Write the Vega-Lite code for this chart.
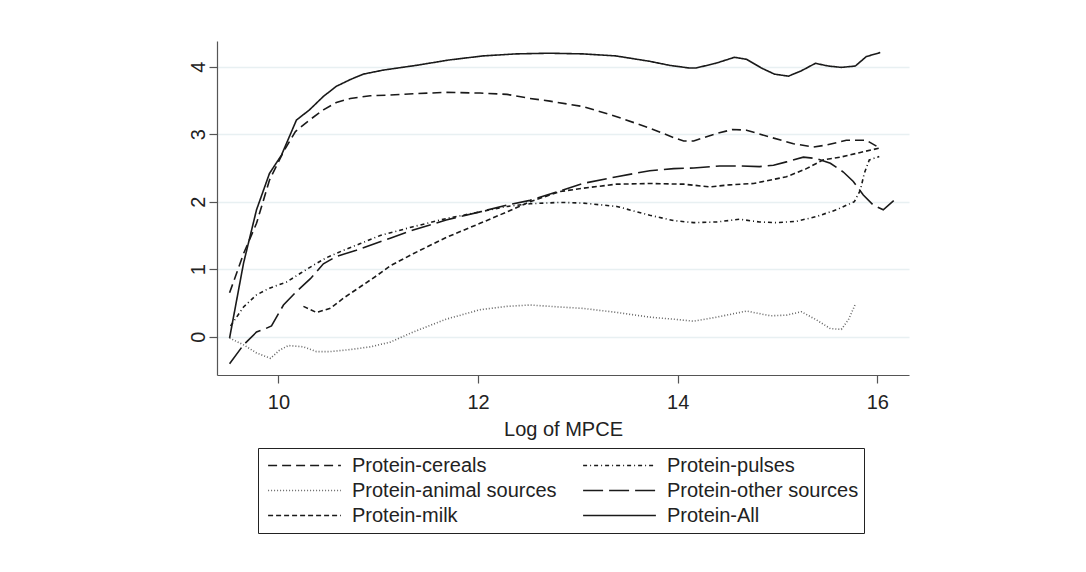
{
  "$schema": "https://vega.github.io/schema/vega-lite/v6.json",
  "width": 692,
  "height": 334,
  "autosize": {"type": "none"},
  "padding": {"left": 217, "top": 41, "right": 177, "bottom": 197},
  "background": "white",
  "config": {
    "font": "Liberation Sans",
    "view": {"stroke": null, "fill": "white"}
  },
  "data": {
    "values": [
      {"series": "Protein-All", "x": 9.51, "y": -0.02},
      {"series": "Protein-All", "x": 9.65, "y": 1.09},
      {"series": "Protein-All", "x": 9.78, "y": 1.88},
      {"series": "Protein-All", "x": 9.91, "y": 2.42},
      {"series": "Protein-All", "x": 10.03, "y": 2.69},
      {"series": "Protein-All", "x": 10.18, "y": 3.21},
      {"series": "Protein-All", "x": 10.31, "y": 3.36},
      {"series": "Protein-All", "x": 10.45, "y": 3.56},
      {"series": "Protein-All", "x": 10.58, "y": 3.71},
      {"series": "Protein-All", "x": 10.72, "y": 3.81},
      {"series": "Protein-All", "x": 10.85, "y": 3.89},
      {"series": "Protein-All", "x": 11.05, "y": 3.95},
      {"series": "Protein-All", "x": 11.38, "y": 4.02},
      {"series": "Protein-All", "x": 11.71, "y": 4.10},
      {"series": "Protein-All", "x": 12.05, "y": 4.16},
      {"series": "Protein-All", "x": 12.38, "y": 4.19},
      {"series": "Protein-All", "x": 12.71, "y": 4.20},
      {"series": "Protein-All", "x": 13.05, "y": 4.19},
      {"series": "Protein-All", "x": 13.38, "y": 4.16},
      {"series": "Protein-All", "x": 13.72, "y": 4.08},
      {"series": "Protein-All", "x": 13.92, "y": 4.02},
      {"series": "Protein-All", "x": 14.12, "y": 3.98},
      {"series": "Protein-All", "x": 14.18, "y": 3.98},
      {"series": "Protein-All", "x": 14.38, "y": 4.05},
      {"series": "Protein-All", "x": 14.57, "y": 4.14},
      {"series": "Protein-All", "x": 14.69, "y": 4.11},
      {"series": "Protein-All", "x": 14.84, "y": 3.98},
      {"series": "Protein-All", "x": 14.97, "y": 3.89},
      {"series": "Protein-All", "x": 15.11, "y": 3.86},
      {"series": "Protein-All", "x": 15.24, "y": 3.94},
      {"series": "Protein-All", "x": 15.38, "y": 4.05},
      {"series": "Protein-All", "x": 15.51, "y": 4.01},
      {"series": "Protein-All", "x": 15.64, "y": 3.99},
      {"series": "Protein-All", "x": 15.78, "y": 4.01},
      {"series": "Protein-All", "x": 15.89, "y": 4.15},
      {"series": "Protein-All", "x": 16.03, "y": 4.21},

      {"series": "Protein-cereals", "x": 9.51, "y": 0.65},
      {"series": "Protein-cereals", "x": 9.65, "y": 1.23},
      {"series": "Protein-cereals", "x": 9.78, "y": 1.68},
      {"series": "Protein-cereals", "x": 9.91, "y": 2.32},
      {"series": "Protein-cereals", "x": 10.05, "y": 2.74},
      {"series": "Protein-cereals", "x": 10.17, "y": 3.04},
      {"series": "Protein-cereals", "x": 10.31, "y": 3.21},
      {"series": "Protein-cereals", "x": 10.45, "y": 3.36},
      {"series": "Protein-cereals", "x": 10.58, "y": 3.47},
      {"series": "Protein-cereals", "x": 10.72, "y": 3.53},
      {"series": "Protein-cereals", "x": 10.92, "y": 3.57},
      {"series": "Protein-cereals", "x": 11.12, "y": 3.58},
      {"series": "Protein-cereals", "x": 11.35, "y": 3.60},
      {"series": "Protein-cereals", "x": 11.68, "y": 3.62},
      {"series": "Protein-cereals", "x": 12.02, "y": 3.61},
      {"series": "Protein-cereals", "x": 12.29, "y": 3.59},
      {"series": "Protein-cereals", "x": 12.52, "y": 3.53},
      {"series": "Protein-cereals", "x": 12.72, "y": 3.49},
      {"series": "Protein-cereals", "x": 13.05, "y": 3.41},
      {"series": "Protein-cereals", "x": 13.39, "y": 3.26},
      {"series": "Protein-cereals", "x": 13.72, "y": 3.09},
      {"series": "Protein-cereals", "x": 13.96, "y": 2.95},
      {"series": "Protein-cereals", "x": 14.06, "y": 2.90},
      {"series": "Protein-cereals", "x": 14.16, "y": 2.90},
      {"series": "Protein-cereals", "x": 14.39, "y": 3.01},
      {"series": "Protein-cereals", "x": 14.55, "y": 3.07},
      {"series": "Protein-cereals", "x": 14.69, "y": 3.06},
      {"series": "Protein-cereals", "x": 14.92, "y": 2.96},
      {"series": "Protein-cereals", "x": 15.16, "y": 2.86},
      {"series": "Protein-cereals", "x": 15.36, "y": 2.81},
      {"series": "Protein-cereals", "x": 15.49, "y": 2.84},
      {"series": "Protein-cereals", "x": 15.69, "y": 2.91},
      {"series": "Protein-cereals", "x": 15.89, "y": 2.91},
      {"series": "Protein-cereals", "x": 16.03, "y": 2.79},

      {"series": "Protein-pulses", "x": 9.52, "y": 0.16},
      {"series": "Protein-pulses", "x": 9.65, "y": 0.44},
      {"series": "Protein-pulses", "x": 9.78, "y": 0.62},
      {"series": "Protein-pulses", "x": 9.91, "y": 0.72},
      {"series": "Protein-pulses", "x": 10.08, "y": 0.81},
      {"series": "Protein-pulses", "x": 10.22, "y": 0.94},
      {"series": "Protein-pulses", "x": 10.35, "y": 1.06},
      {"series": "Protein-pulses", "x": 10.48, "y": 1.17},
      {"series": "Protein-pulses", "x": 10.65, "y": 1.28},
      {"series": "Protein-pulses", "x": 10.82, "y": 1.38},
      {"series": "Protein-pulses", "x": 11.02, "y": 1.50},
      {"series": "Protein-pulses", "x": 11.35, "y": 1.63},
      {"series": "Protein-pulses", "x": 11.68, "y": 1.75},
      {"series": "Protein-pulses", "x": 12.02, "y": 1.85},
      {"series": "Protein-pulses", "x": 12.29, "y": 1.93},
      {"series": "Protein-pulses", "x": 12.52, "y": 1.97},
      {"series": "Protein-pulses", "x": 12.82, "y": 1.99},
      {"series": "Protein-pulses", "x": 13.05, "y": 1.98},
      {"series": "Protein-pulses", "x": 13.39, "y": 1.93},
      {"series": "Protein-pulses", "x": 13.72, "y": 1.80},
      {"series": "Protein-pulses", "x": 13.96, "y": 1.72},
      {"series": "Protein-pulses", "x": 14.16, "y": 1.69},
      {"series": "Protein-pulses", "x": 14.39, "y": 1.70},
      {"series": "Protein-pulses", "x": 14.62, "y": 1.74},
      {"series": "Protein-pulses", "x": 14.82, "y": 1.70},
      {"series": "Protein-pulses", "x": 14.99, "y": 1.69},
      {"series": "Protein-pulses", "x": 15.19, "y": 1.71},
      {"series": "Protein-pulses", "x": 15.39, "y": 1.78},
      {"series": "Protein-pulses", "x": 15.59, "y": 1.88},
      {"series": "Protein-pulses", "x": 15.77, "y": 2.00},
      {"series": "Protein-pulses", "x": 15.83, "y": 2.17},
      {"series": "Protein-pulses", "x": 15.87, "y": 2.42},
      {"series": "Protein-pulses", "x": 15.92, "y": 2.62},
      {"series": "Protein-pulses", "x": 16.02, "y": 2.67},

      {"series": "Protein-animal sources", "x": 9.51, "y": -0.02},
      {"series": "Protein-animal sources", "x": 9.65, "y": -0.12},
      {"series": "Protein-animal sources", "x": 9.78, "y": -0.24},
      {"series": "Protein-animal sources", "x": 9.92, "y": -0.32},
      {"series": "Protein-animal sources", "x": 10.01, "y": -0.20},
      {"series": "Protein-animal sources", "x": 10.1, "y": -0.13},
      {"series": "Protein-animal sources", "x": 10.25, "y": -0.15},
      {"series": "Protein-animal sources", "x": 10.38, "y": -0.22},
      {"series": "Protein-animal sources", "x": 10.52, "y": -0.22},
      {"series": "Protein-animal sources", "x": 10.72, "y": -0.19},
      {"series": "Protein-animal sources", "x": 10.92, "y": -0.15},
      {"series": "Protein-animal sources", "x": 11.12, "y": -0.08},
      {"series": "Protein-animal sources", "x": 11.35, "y": 0.07},
      {"series": "Protein-animal sources", "x": 11.68, "y": 0.26},
      {"series": "Protein-animal sources", "x": 12.02, "y": 0.40},
      {"series": "Protein-animal sources", "x": 12.29, "y": 0.45},
      {"series": "Protein-animal sources", "x": 12.52, "y": 0.47},
      {"series": "Protein-animal sources", "x": 12.82, "y": 0.44},
      {"series": "Protein-animal sources", "x": 13.05, "y": 0.42},
      {"series": "Protein-animal sources", "x": 13.39, "y": 0.36},
      {"series": "Protein-animal sources", "x": 13.72, "y": 0.29},
      {"series": "Protein-animal sources", "x": 13.96, "y": 0.26},
      {"series": "Protein-animal sources", "x": 14.16, "y": 0.23},
      {"series": "Protein-animal sources", "x": 14.39, "y": 0.29},
      {"series": "Protein-animal sources", "x": 14.69, "y": 0.38},
      {"series": "Protein-animal sources", "x": 14.93, "y": 0.31},
      {"series": "Protein-animal sources", "x": 15.09, "y": 0.32},
      {"series": "Protein-animal sources", "x": 15.24, "y": 0.37},
      {"series": "Protein-animal sources", "x": 15.39, "y": 0.25},
      {"series": "Protein-animal sources", "x": 15.53, "y": 0.12},
      {"series": "Protein-animal sources", "x": 15.64, "y": 0.11},
      {"series": "Protein-animal sources", "x": 15.71, "y": 0.25},
      {"series": "Protein-animal sources", "x": 15.78, "y": 0.48},

      {"series": "Protein-other sources", "x": 9.51, "y": -0.40},
      {"series": "Protein-other sources", "x": 9.65, "y": -0.12},
      {"series": "Protein-other sources", "x": 9.78, "y": 0.07},
      {"series": "Protein-other sources", "x": 9.87, "y": 0.12},
      {"series": "Protein-other sources", "x": 9.93, "y": 0.16},
      {"series": "Protein-other sources", "x": 10.05, "y": 0.47},
      {"series": "Protein-other sources", "x": 10.18, "y": 0.67},
      {"series": "Protein-other sources", "x": 10.32, "y": 0.86},
      {"series": "Protein-other sources", "x": 10.45, "y": 1.08},
      {"series": "Protein-other sources", "x": 10.58, "y": 1.19},
      {"series": "Protein-other sources", "x": 10.78, "y": 1.28},
      {"series": "Protein-other sources", "x": 11.12, "y": 1.46},
      {"series": "Protein-other sources", "x": 11.35, "y": 1.58},
      {"series": "Protein-other sources", "x": 11.68, "y": 1.73},
      {"series": "Protein-other sources", "x": 12.02, "y": 1.85},
      {"series": "Protein-other sources", "x": 12.29, "y": 1.95},
      {"series": "Protein-other sources", "x": 12.52, "y": 2.02},
      {"series": "Protein-other sources", "x": 12.82, "y": 2.16},
      {"series": "Protein-other sources", "x": 13.05, "y": 2.27},
      {"series": "Protein-other sources", "x": 13.39, "y": 2.37},
      {"series": "Protein-other sources", "x": 13.72, "y": 2.46},
      {"series": "Protein-other sources", "x": 13.96, "y": 2.49},
      {"series": "Protein-other sources", "x": 14.16, "y": 2.50},
      {"series": "Protein-other sources", "x": 14.42, "y": 2.53},
      {"series": "Protein-other sources", "x": 14.62, "y": 2.53},
      {"series": "Protein-other sources", "x": 14.82, "y": 2.52},
      {"series": "Protein-other sources", "x": 14.96, "y": 2.54},
      {"series": "Protein-other sources", "x": 15.09, "y": 2.59},
      {"series": "Protein-other sources", "x": 15.26, "y": 2.66},
      {"series": "Protein-other sources", "x": 15.39, "y": 2.64},
      {"series": "Protein-other sources", "x": 15.53, "y": 2.57},
      {"series": "Protein-other sources", "x": 15.66, "y": 2.44},
      {"series": "Protein-other sources", "x": 15.76, "y": 2.30},
      {"series": "Protein-other sources", "x": 15.86, "y": 2.10},
      {"series": "Protein-other sources", "x": 15.96, "y": 1.95},
      {"series": "Protein-other sources", "x": 16.06, "y": 1.88},
      {"series": "Protein-other sources", "x": 16.19, "y": 2.05},

      {"series": "Protein-milk", "x": 10.25, "y": 0.45},
      {"series": "Protein-milk", "x": 10.38, "y": 0.36},
      {"series": "Protein-milk", "x": 10.52, "y": 0.42},
      {"series": "Protein-milk", "x": 10.65, "y": 0.57},
      {"series": "Protein-milk", "x": 10.82, "y": 0.74},
      {"series": "Protein-milk", "x": 10.98, "y": 0.90},
      {"series": "Protein-milk", "x": 11.12, "y": 1.05},
      {"series": "Protein-milk", "x": 11.35, "y": 1.23},
      {"series": "Protein-milk", "x": 11.68, "y": 1.47},
      {"series": "Protein-milk", "x": 12.02, "y": 1.68},
      {"series": "Protein-milk", "x": 12.29, "y": 1.85},
      {"series": "Protein-milk", "x": 12.52, "y": 2.00},
      {"series": "Protein-milk", "x": 12.82, "y": 2.15},
      {"series": "Protein-milk", "x": 13.05, "y": 2.20},
      {"series": "Protein-milk", "x": 13.39, "y": 2.26},
      {"series": "Protein-milk", "x": 13.72, "y": 2.27},
      {"series": "Protein-milk", "x": 14.06, "y": 2.26},
      {"series": "Protein-milk", "x": 14.32, "y": 2.22},
      {"series": "Protein-milk", "x": 14.52, "y": 2.25},
      {"series": "Protein-milk", "x": 14.76, "y": 2.27},
      {"series": "Protein-milk", "x": 15.09, "y": 2.37},
      {"series": "Protein-milk", "x": 15.29, "y": 2.49},
      {"series": "Protein-milk", "x": 15.46, "y": 2.62},
      {"series": "Protein-milk", "x": 15.63, "y": 2.66},
      {"series": "Protein-milk", "x": 15.83, "y": 2.73},
      {"series": "Protein-milk", "x": 16.04, "y": 2.80}
    ]
  },
  "mark": {"type": "line", "strokeWidth": 1.6, "clip": true},
  "encoding": {
    "x": {
      "field": "x",
      "type": "quantitative",
      "scale": {"domain": [9.384, 16.318], "nice": false, "zero": false},
      "axis": {
        "values": [10, 12, 14, 16],
        "grid": false,
        "title": "Log of MPCE",
        "domainColor": "#555555",
        "domainWidth": 1.2,
        "tickColor": "#555555",
        "tickWidth": 1.2,
        "tickSize": 8,
        "labelFontSize": 20,
        "labelColor": "#222222",
        "labelPadding": 9,
        "labelFlush": false,
        "titleFontSize": 20,
        "titleFontWeight": "normal",
        "titleColor": "#222222",
        "titlePadding": 7
      }
    },
    "y": {
      "field": "y",
      "type": "quantitative",
      "scale": {"domain": [-0.567, 4.381], "nice": false, "zero": false},
      "axis": {
        "values": [0, 1, 2, 3, 4],
        "grid": true,
        "gridColor": "#e8f0f2",
        "gridWidth": 1.5,
        "title": null,
        "domainColor": "#555555",
        "domainWidth": 1.2,
        "tickColor": "#555555",
        "tickWidth": 1.2,
        "tickSize": 8,
        "labelFontSize": 20,
        "labelColor": "#222222",
        "labelAngle": -90,
        "labelAlign": "center",
        "labelBaseline": "bottom",
        "labelPadding": 1,
        "labelFlush": false
      }
    },
    "strokeDash": {
      "field": "series",
      "type": "nominal",
      "scale": {
        "domain": ["Protein-cereals", "Protein-animal sources", "Protein-milk", "Protein-pulses", "Protein-other sources", "Protein-All"],
        "range": [[9, 5], [1, 2], [5, 3], [4, 3, 1, 3], [20, 6], [1, 0]]
      },
      "legend": {
        "title": null,
        "orient": "none",
        "legendX": 41,
        "legendY": 407,
        "columns": 2,
        "columnPadding": 21,
        "rowPadding": 0,
        "clipHeight": 25,
        "symbolType": "stroke",
        "symbolSize": 5300,
        "symbolStrokeWidth": 1.6,
        "symbolOffset": 4,
        "labelFontSize": 20,
        "labelColor": "#222222",
        "labelOffset": 10,
        "labelLimit": 400,
        "padding": 5,
        "strokeColor": "#222222",
        "fillColor": "white"
      }
    },
    "color": {
      "field": "series",
      "type": "nominal",
      "scale": {
        "domain": ["Protein-cereals", "Protein-animal sources", "Protein-milk", "Protein-pulses", "Protein-other sources", "Protein-All"],
        "range": ["#1a1a1a", "#666666", "#1a1a1a", "#1a1a1a", "#1a1a1a", "#1a1a1a"]
      },
      "legend": {
        "title": null,
        "orient": "none",
        "legendX": 41,
        "legendY": 407,
        "columns": 2,
        "columnPadding": 21,
        "rowPadding": 0,
        "clipHeight": 25,
        "symbolType": "stroke",
        "symbolSize": 5300,
        "symbolStrokeWidth": 1.6,
        "symbolOffset": 4,
        "labelFontSize": 20,
        "labelColor": "#222222",
        "labelOffset": 10,
        "labelLimit": 400,
        "padding": 5,
        "strokeColor": "#222222",
        "fillColor": "white"
      }
    }
  }
}
